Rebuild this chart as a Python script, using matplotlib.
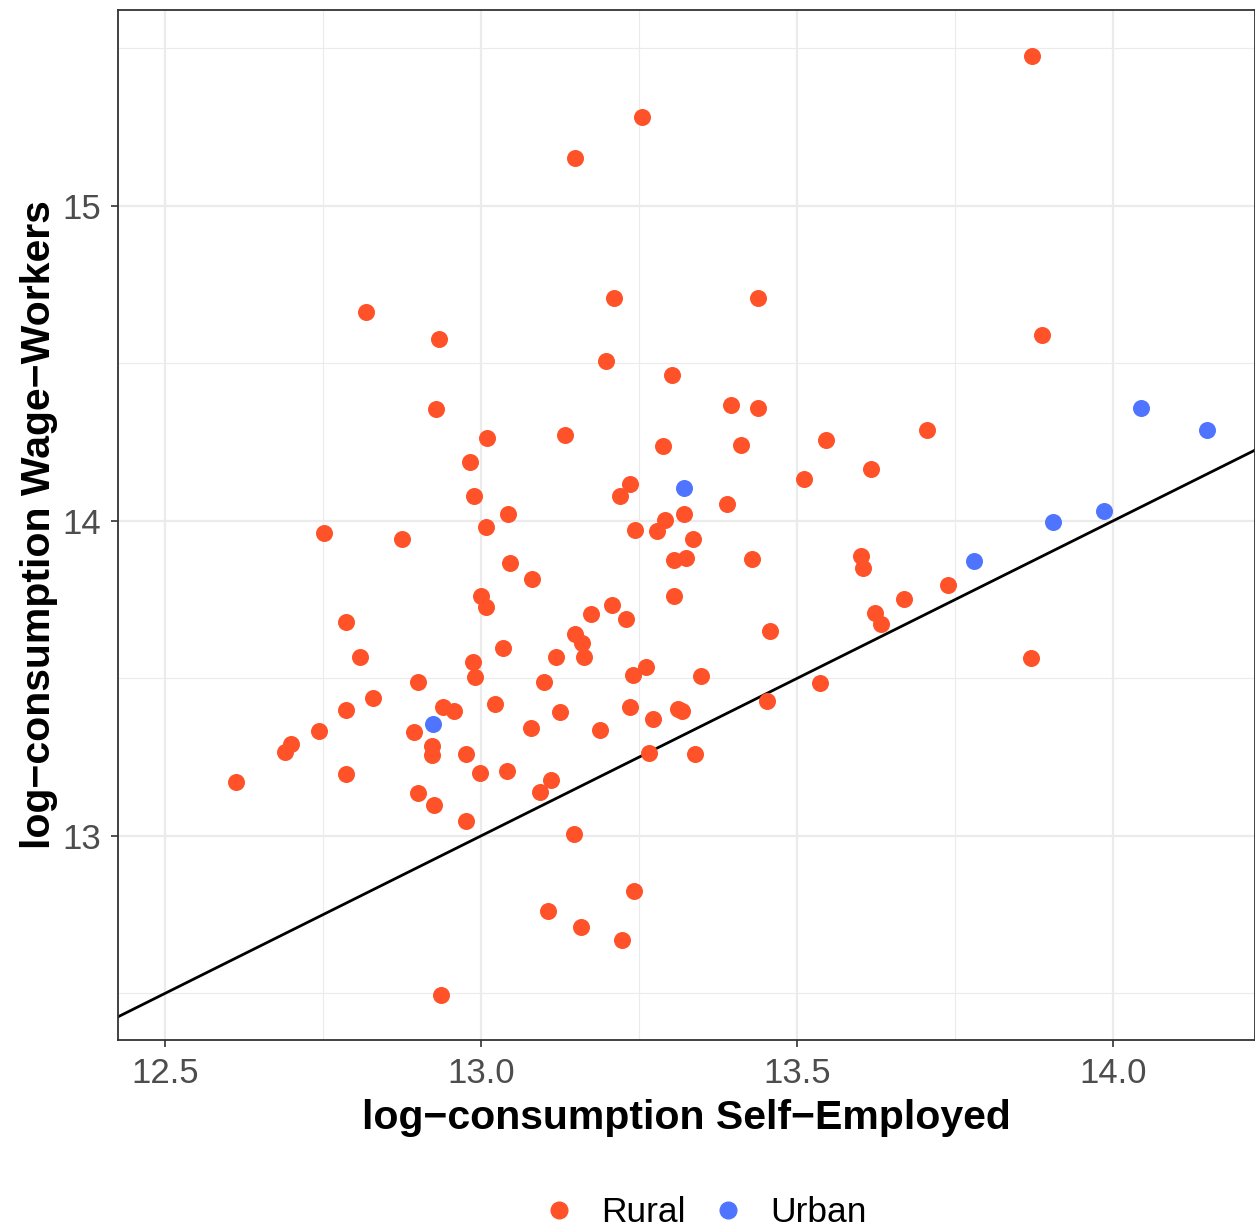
import matplotlib
matplotlib.use("Agg")
import matplotlib.pyplot as plt
from matplotlib.lines import Line2D
import numpy as np

plt.rcParams["font.family"] = ["Liberation Sans", "DejaVu Sans"]

# log-consumption of rural households: self-employed (x) vs wage-workers (y)
rural_self = [13.872, 13.255, 13.149, 13.210, 13.438, 12.818, 12.934, 13.888, 13.198, 13.302,
              13.396, 13.438, 12.929, 13.706, 13.133, 13.009, 13.546, 13.411, 13.288, 12.983,
              13.617, 13.511, 13.236, 13.220, 12.989, 13.389, 13.043, 13.321, 13.291, 13.008,
              13.244, 13.278, 12.752, 12.875, 13.335, 13.601, 13.324, 13.305, 13.429, 13.046,
              13.604, 13.081, 13.739, 13.000, 13.305, 13.669, 13.008, 13.207, 13.623, 13.174,
              13.229, 13.633, 12.786, 13.149, 13.457, 13.160, 13.035, 12.809, 13.119, 13.163,
              13.870, 12.987, 13.261, 13.241, 13.348, 12.991, 12.900, 13.100, 13.536, 12.829,
              13.453, 13.022, 12.940, 12.957, 12.786, 13.236, 13.312, 13.318, 13.125, 13.272,
              12.744, 13.079, 13.188, 12.894, 12.699, 12.690, 12.922, 12.922, 12.976, 13.266,
              13.339, 13.041, 12.998, 12.786, 13.111, 12.612, 13.093, 12.900, 12.926, 12.976,
              13.147, 13.242, 13.106, 13.158, 13.223, 12.937]
rural_wage = [15.476, 15.283, 15.152, 14.708, 14.708, 14.663, 14.578, 14.590, 14.508, 14.463,
              14.368, 14.359, 14.356, 14.289, 14.273, 14.263, 14.257, 14.241, 14.238, 14.187,
              14.165, 14.133, 14.117, 14.079, 14.079, 14.054, 14.022, 14.022, 14.003, 13.981,
              13.971, 13.968, 13.962, 13.943, 13.943, 13.889, 13.883, 13.876, 13.879, 13.867,
              13.851, 13.816, 13.797, 13.762, 13.762, 13.752, 13.727, 13.733, 13.708, 13.705,
              13.689, 13.673, 13.679, 13.641, 13.651, 13.613, 13.597, 13.568, 13.568, 13.568,
              13.565, 13.552, 13.537, 13.511, 13.508, 13.505, 13.489, 13.489, 13.486, 13.438,
              13.429, 13.419, 13.410, 13.397, 13.400, 13.410, 13.403, 13.397, 13.394, 13.371,
              13.333, 13.343, 13.337, 13.330, 13.292, 13.267, 13.286, 13.257, 13.260, 13.263,
              13.260, 13.206, 13.200, 13.197, 13.178, 13.171, 13.140, 13.137, 13.098, 13.048,
              13.006, 12.825, 12.762, 12.711, 12.670, 12.495]

urban_self = [13.321, 12.924, 13.780, 13.905, 13.986, 14.044, 14.149]
urban_wage = [14.105, 13.356, 13.873, 13.997, 14.032, 14.359, 14.289]

x_ticks = [12.5, 13.0, 13.5, 14.0]
y_ticks = [13, 14, 15]
groups = ["Rural", "Urban"]
colors = ["#FF5229", "#4F74FF"]

fig = plt.figure(figsize=(12.55, 12.28), dpi=100)
ax = fig.add_axes([118 / 1255, 188 / 1228, 1137 / 1255, 1030 / 1228])

xlim = (12.4256, 14.2247)
ylim = (12.352, 15.622)
ax.set_xlim(*xlim)
ax.set_ylim(*ylim)

# grid like theme_bw
ax.set_xticks(x_ticks)
ax.set_yticks(y_ticks)
ax.set_xticks([12.75, 13.25, 13.75], minor=True)
ax.set_yticks([12.5, 13.5, 14.5, 15.5], minor=True)
ax.grid(True, which="major", color="#EBEBEB", linewidth=1.6, zorder=0)
ax.grid(True, which="minor", color="#EBEBEB", linewidth=0.8, zorder=0)
ax.set_axisbelow(True)
ax.set_xticklabels(["12.5", "13.0", "13.5", "14.0"])
ax.set_yticklabels(["13", "14", "15"])
ax.tick_params(which="major", length=5, width=1.2, color="#333333",
               labelsize=25, labelcolor="#4D4D4D", pad=7)
ax.tick_params(which="minor", length=0)

for s in ax.spines.values():
    s.set_color("#333333")
    s.set_linewidth(1.3)

# 45-degree line
line_x = np.array(xlim)
ax.plot(line_x, line_x, color="black", linewidth=2, zorder=2)

ax.scatter(rural_self, rural_wage, s=150, color=colors[0], linewidths=0, zorder=3)
ax.scatter(urban_self, urban_wage, s=150, color=colors[1], linewidths=0, zorder=3)

ax.set_xlabel("log\u2212consumption Self\u2212Employed", fontsize=29.5, fontweight="bold", labelpad=7)
ax.set_ylabel("log\u2212consumption Wage\u2212Workers", fontsize=29.5, fontweight="bold", labelpad=3)

handles = [Line2D([], [], marker="o", linestyle="", markersize=12, color=c) for c in colors]
fig.legend(handles, groups, loc="center", bbox_to_anchor=(704 / 1255, 1 - 1213 / 1228),
           ncol=2, frameon=False, fontsize=25.5, handlelength=1.0,
           handletextpad=0.7, columnspacing=0.69, borderpad=0)

fig.savefig("out.png", dpi=100)
